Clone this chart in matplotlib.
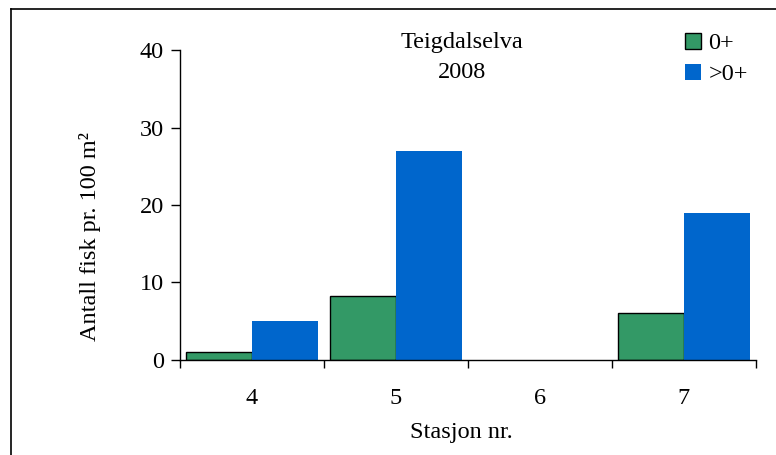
import numpy as np
import matplotlib.pyplot as plt
from matplotlib.lines import Line2D
from matplotlib.patches import Patch

plt.rcParams['font.family'] = 'Liberation Serif'

# Data
stations = ['4', '5', '6', '7']
fry = [1.0, 8.3, 0.0, 6.0]        # 0+
older = [5.0, 27.0, 0.0, 19.0]    # >0+

green = '#339966'
blue = '#0066CC'
fs = 17.5

fig = plt.figure(figsize=(7.76, 4.55), dpi=100)
ax = fig.add_axes([0.232, 0.209, 0.742, 0.681])

x = np.arange(1, len(stations) + 1)
w = 0.458
ax.bar(x - w/2, fry, width=w, color=green, edgecolor='black',
       linewidth=[1.0 if v > 0 else 0 for v in fry])
ax.bar(x + w/2, older, width=w, color=blue, linewidth=0)

ax.set_xlim(0.5, len(stations) + 0.5)
ax.set_ylim(0, 40)

# ticks on category boundaries, labels at category centres
ax.set_xticks(np.arange(0.5, len(stations) + 1, 1.0))
ax.set_xticklabels([])
ax.set_xticks(x, minor=True)
ax.set_xticklabels(stations, minor=True, fontsize=fs)
ax.tick_params(axis='x', which='major', direction='out', length=6, width=1)
ax.tick_params(axis='x', which='minor', length=0, pad=20)
ax.set_yticks([0, 10, 20, 30, 40])
ax.tick_params(axis='y', direction='out', length=6.5, width=1, pad=5, labelsize=fs)

for s in ['top', 'right']:
    ax.spines[s].set_visible(False)
for s in ['left', 'bottom']:
    ax.spines[s].set_linewidth(1.0)

fig.text(0.595, 0.05, 'Stasjon nr.', ha='center', va='center', fontsize=fs)
fig.text(0.116, 0.48, 'Antall fisk pr. 100 m²', rotation=90,
         ha='center', va='center', fontsize=fs)

ax.text(0.49, 1.023, 'Teigdalselva', transform=ax.transAxes,
        ha='center', va='center', fontsize=fs)
ax.text(0.49, 0.926, '2008', transform=ax.transAxes,
        ha='center', va='center', fontsize=fs)

handles = [Patch(facecolor=green, edgecolor='black', linewidth=1.0),
           Patch(facecolor=blue, linewidth=0)]
ax.legend(handles, ['0+', '>0+'], loc='upper left', bbox_to_anchor=(0.856, 1.095),
          frameon=False, fontsize=fs, handlelength=0.66, handleheight=0.66,
          handletextpad=0.3, labelspacing=0.38, borderpad=0)

# outer frame (left and top edges)
fig.add_artist(Line2D([0.0142, 0.0142], [0.0, 0.980], color='black', lw=1.2))
fig.add_artist(Line2D([0.0142, 1.0], [0.980, 0.980], color='black', lw=1.2))

fig.savefig('out.png', dpi=100)
